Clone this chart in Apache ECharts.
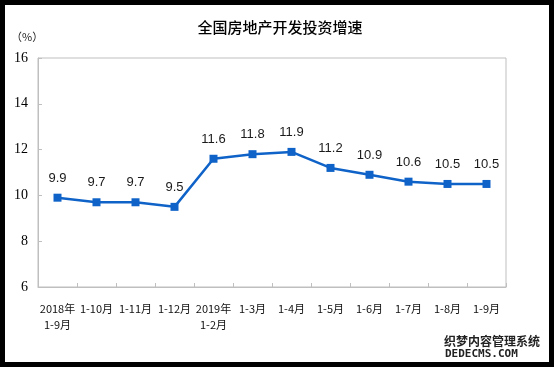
<!DOCTYPE html>
<html><head><meta charset="utf-8">
<script src="https://cdn.jsdelivr.net/npm/echarts@6/dist/echarts.min.js"></script>
<style>
html,body{margin:0;padding:0;background:#000;}
#c{position:absolute;left:0;top:0;width:554px;height:367px;}
</style></head>
<body><div id="c"></div>
<script>
const categories = ['2018年\n1-9月','1-10月','1-11月','1-12月','2019年\n1-2月','1-3月','1-4月','1-5月','1-6月','1-7月','1-8月','1-9月'];
const growth = [9.9, 9.7, 9.7, 9.5, 11.6, 11.8, 11.9, 11.2, 10.9, 10.6, 10.5, 10.5];
const yTicks = [6, 8, 10, 12, 14, 16];

const chart = echarts.init(document.getElementById('c'), null, {renderer:'canvas'});
chart.setOption({
  backgroundColor: 'transparent',
  animation: false,
  graphic: [
    {type:'rect', shape:{x:5,y:5,width:544,height:357}, style:{fill:'#fff'}, z:-10, silent:true},
    {type:'text', left:11, top:31, style:{text:'（%）', font:'11px "Noto Sans CJK SC"', fill:'#222'}},
    {type:'text', left:443, top:334, style:{text:'织梦内容管理系统', font:'bold 12px "Noto Sans CJK SC"', fill:'#222', stroke:'#fff', lineWidth:2}},
    {type:'text', left:444, top:348, style:{text:'DEDECMS.COM', font:'bold 11px "DejaVu Sans Mono"', fill:'#222', stroke:'#fff', lineWidth:2}}
  ],
  title: {
    text: '全国房地产开发投资增速',
    left: 275, top: 15, textAlign: 'center',
    textStyle: {fontSize: 15, fontWeight: 500, color: '#000', fontFamily: 'Noto Sans CJK SC'}
  },
  grid: {left: 38, right: 48, top: 58, bottom: 80, show: true, borderColor: '#bfbfbf', borderWidth: 1},
  xAxis: {
    type: 'category', data: categories, boundaryGap: true,
    axisLine: {show: true, lineStyle: {color: '#bfbfbf'}},
    axisTick: {show: true, inside: true, length: 4, lineStyle: {color: '#bfbfbf'}},
    axisLabel: {interval: 0, margin: 14, fontSize: 11, lineHeight: 16, color: '#111', fontFamily: 'Noto Sans CJK SC'}
  },
  yAxis: {
    type: 'value', min: yTicks[0], max: yTicks[yTicks.length-1], interval: 2,
    axisLine: {show: true, lineStyle: {color: '#bfbfbf'}},
    axisTick: {show: true, inside: true, length: 4, lineStyle: {color: '#bfbfbf'}},
    splitLine: {show: false},
    axisLabel: {margin: 10, fontSize: 14, color: '#000', fontFamily: 'Liberation Serif'}
  },
  series: [{
    type: 'line', data: growth,
    symbol: 'rect', symbolSize: 8,
    lineStyle: {color: '#0f63c8', width: 2.5},
    itemStyle: {color: '#0f63c8'},
    label: {show: true, position: 'top', distance: 9, fontSize: 13, color: '#1a1a1a', fontFamily: 'Liberation Sans'}
  }]
});
</script></body></html>
